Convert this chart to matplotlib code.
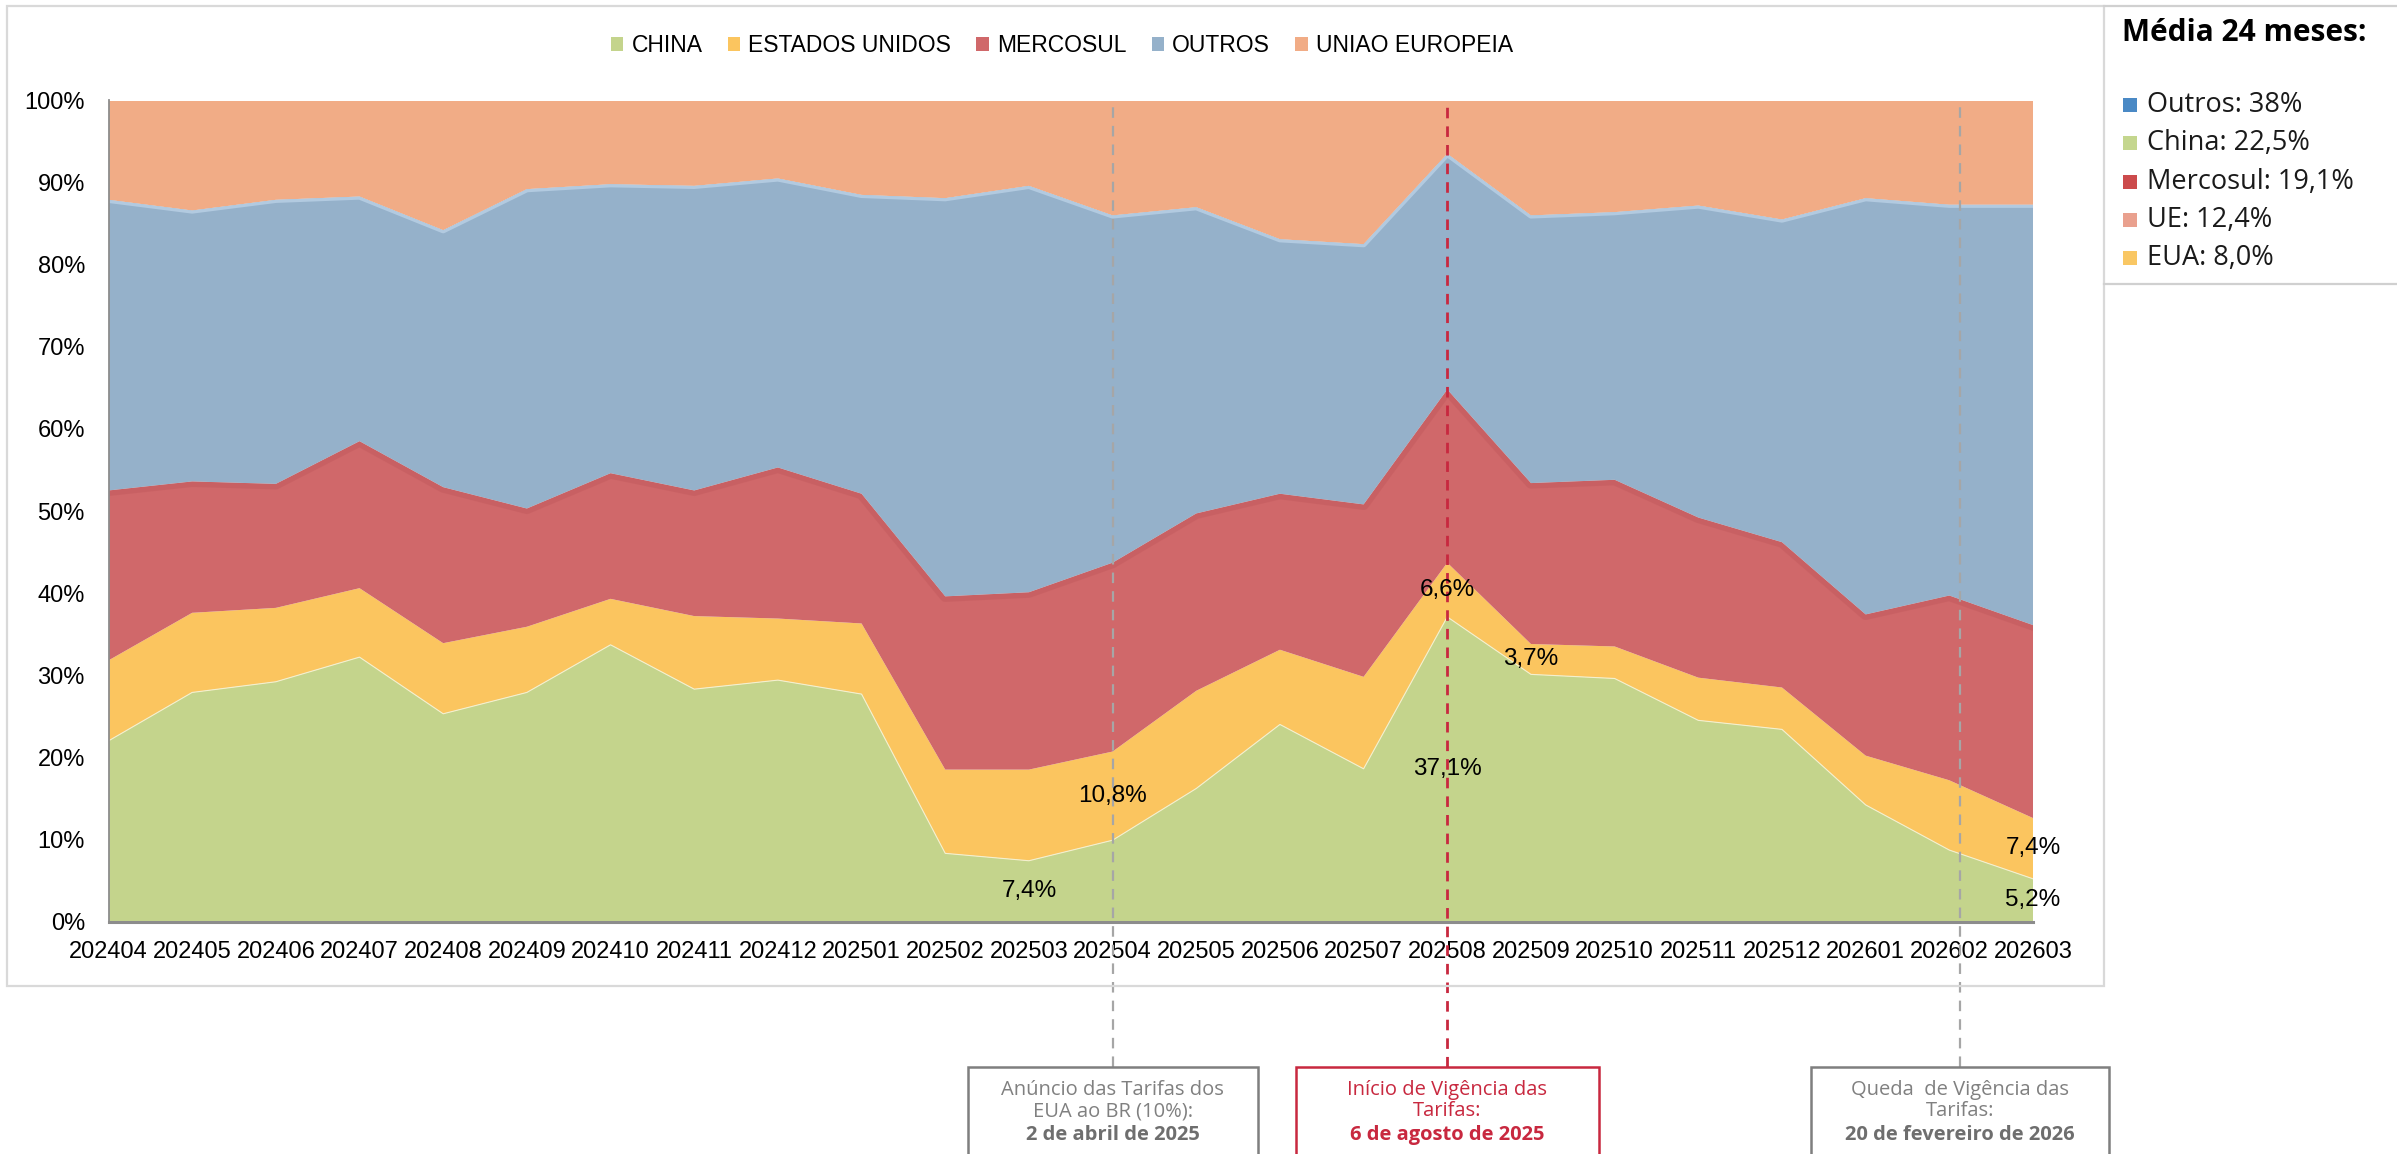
import matplotlib
matplotlib.use('Agg')
import matplotlib.pyplot as plt
from matplotlib.patches import Rectangle, Patch
from matplotlib.lines import Line2D
import numpy as np

meses = ['202404', '202405', '202406', '202407', '202408', '202409', '202410', '202411',
         '202412', '202501', '202502', '202503', '202504', '202505', '202506', '202507',
         '202508', '202509', '202510', '202511', '202512', '202601', '202602', '202603']

china = [22.0, 27.9, 29.2, 32.2, 25.3, 27.9, 33.7, 28.3, 29.4, 27.7, 8.3, 7.4,
         9.9, 16.2, 24.0, 18.6, 37.1, 30.1, 29.6, 24.5, 23.4, 14.2, 8.7, 5.2]
eua = [9.8, 9.7, 9.0, 8.4, 8.6, 8.0, 5.6, 8.9, 7.5, 8.6, 10.2, 11.1,
       10.8, 11.9, 9.1, 11.2, 6.6, 3.7, 3.9, 5.2, 5.1, 6.0, 8.5, 7.4]
mercosul = [20.7, 16.0, 15.1, 17.9, 19.0, 14.4, 15.3, 15.3, 18.4, 15.8, 21.1, 21.6,
            23.0, 21.6, 19.0, 21.0, 21.1, 19.6, 20.3, 19.5, 17.7, 17.2, 22.5, 23.5]
outros = [35.4, 33.0, 34.6, 29.8, 31.3, 38.9, 35.2, 37.1, 35.2, 36.4, 48.5, 49.5,
          42.3, 37.3, 31.0, 31.7, 28.7, 32.6, 32.6, 38.0, 39.3, 50.7, 47.6, 51.2]
ue = [12.1, 13.4, 12.1, 11.7, 15.8, 10.8, 10.2, 10.4, 9.5, 11.5, 11.9, 10.4,
      14.0, 13.0, 16.9, 17.5, 6.5, 14.0, 13.6, 12.8, 14.5, 11.9, 12.7, 12.7]

nomes = ['CHINA', 'ESTADOS UNIDOS', 'MERCOSUL', 'OUTROS', 'UNIAO EUROPEIA']
cores = ['#C4D48C', '#FBC55F', '#D0686A', '#95B1CA', '#F1AC86']

# rotulos de dados: (indice do mes, serie)
rotulos = [(11, 0), (12, 1), (16, 1), (16, 0), (17, 1), (23, 1), (23, 0)]

media_txt = ['Outros: 38%', 'China: 22,5%', 'Mercosul: 19,1%', 'UE: 12,4%', 'EUA: 8,0%']
media_cores = ['#4A89C5', '#C4D68E', '#CC4B4C', '#E9A08E', '#F9C764']

eventos = [12, 16, 22.13]
eventos_txt = [('Anúncio das Tarifas dos', 'EUA ao BR (10%):', '2 de abril de 2025'),
               ('Início de Vigência das', 'Tarifas:', '6 de agosto de 2025'),
               ('Queda  de Vigência das', 'Tarifas:', '20 de fevereiro de 2026')]
eventos_cor = ['#A6A6A6', '#C8283F', '#A6A6A6']
eventos_txtcor = ['#808080', '#C8283F', '#808080']
eventos_larg = [290, 303, 298]

W, H = 2397, 1154
fig = plt.figure(figsize=(W / 100, H / 100), dpi=100)


def fx(p):
    return p / W


def fy(p):
    return 1 - p / H


ax = fig.add_axes([fx(108.5), fy(921.5), fx(2033) - fx(108.5), fy(100.5) - fy(921.5)])
x = np.arange(len(meses))
series = [china, eua, mercosul, outros, ue]
polys = ax.stackplot(x, *series, colors=cores, linewidth=0)
acum = np.cumsum(np.array(series), axis=0)

# brilho no topo da area azul e sombra no vermelho
l1, = ax.plot(x, acum[3], color='#B2CAE0', lw=4.5)
l1.set_clip_path(polys[3].get_paths()[0], ax.transData)
l2, = ax.plot(x, acum[2], color='#C25A5D', lw=8, alpha=0.5)
l2.set_clip_path(polys[2].get_paths()[0], ax.transData)
ax.plot(x, acum[0], color='#F4F0CF', lw=0.8)

ax.set_xlim(0, len(meses) - 1)
ax.set_ylim(0, 100)
ax.set_xticks(x)
ax.set_xticklabels(meses, fontsize=17, family='Liberation Sans')
ax.set_yticks(range(0, 101, 10))
ax.set_yticklabels([f'{v}%' for v in range(0, 101, 10)], fontsize=17, family='Liberation Sans')
ax.tick_params(axis='x', length=0, pad=14)
ax.tick_params(axis='y', length=0, pad=17)
for s in ['top', 'right']:
    ax.spines[s].set_visible(False)
ax.spines['left'].set_color('#8C8C8C')
ax.spines['left'].set_linewidth(1.3)
ax.spines['bottom'].set_color('#8C8C8C')
ax.spines['bottom'].set_linewidth(2.2)

for i, s in rotulos:
    base = acum[s - 1][i] if s > 0 else 0
    v = series[s][i]
    ax.text(i, base + v / 2, f'{v:.1f}'.replace('.', ',') + '%', ha='center', va='center',
            fontsize=17.5, family='Liberation Sans', zorder=5, clip_on=False)

# linhas de eventos e caixas
box_top = 1067
ymin = (fy(box_top) - fy(921.5)) / (fy(100.5) - fy(921.5))
for ev, txt, cor, tcor, larg in zip(eventos, eventos_txt, eventos_cor, eventos_txtcor, eventos_larg):
    lw = 2.0 if cor == '#C8283F' else 1.6
    ax.axvline(ev, ymin=ymin, ymax=1, color=cor, lw=lw, ls=(0, (7.6 / lw, 5.8 / lw)),
               clip_on=False, zorder=4)
    cx = fig.transFigure.inverted().transform(ax.transData.transform((ev, 0)))[0]
    fig.add_artist(Rectangle((cx - fx(larg) / 2, fy(box_top + 150)), fx(larg), fy(box_top) - fy(box_top + 150),
                             transform=fig.transFigure, fill=True, fc='white', ec=cor if cor == '#C8283F' else '#7F7F7F',
                             lw=1.8, zorder=3))
    fig.text(cx, fy(1090), txt[0], ha='center', va='center', fontsize=14.5, color=tcor, family='Open Sans', zorder=4)
    fig.text(cx, fy(1111), txt[1], ha='center', va='center', fontsize=14.5, color=tcor, family='Open Sans', zorder=4)
    fig.text(cx, fy(1135), txt[2], ha='center', va='center', fontsize=14.5, color=tcor if cor == '#C8283F' else '#6E6E6E',
             family='Open Sans', fontweight='bold', zorder=4)

handles = [Patch(facecolor=c, edgecolor='none') for c in cores]
fig.legend(handles, nomes, loc='center', bbox_to_anchor=(fx(1062), fy(46)), ncol=5, frameon=False,
           prop={'family': 'Liberation Sans', 'size': 16.5}, handlelength=0.55, handleheight=0.55,
           handletextpad=0.35, columnspacing=1.1)

# moldura do grafico e caixa lateral
fig.add_artist(Rectangle((fx(7), fy(986)), fx(2104) - fx(7), fy(6) - fy(986), transform=fig.transFigure,
                         fill=False, ec='#D9D9D9', lw=1.6))
fig.add_artist(Line2D([fx(2104), 1], [fy(6), fy(6)], transform=fig.transFigure, color='#D0D0D0', lw=1.6))
fig.add_artist(Line2D([fx(2104), 1], [fy(284), fy(284)], transform=fig.transFigure, color='#D0D0D0', lw=1.6))

fig.text(fx(2122), fy(33), 'Média 24 meses:', fontsize=21.5, fontweight='bold', family='Open Sans',
         va='center', ha='left')
for k, (t, c) in enumerate(zip(media_txt, media_cores)):
    yy = 105 + k * 38.3
    fig.add_artist(Rectangle((fx(2123), fy(yy + 7)), fx(14), fy(yy - 7) - fy(yy + 7), transform=fig.transFigure,
                             fc=c, ec='none'))
    fig.text(fx(2147), fy(yy), t, fontsize=19.5, family='Open Sans', va='center', ha='left', color='#1A1A1A')

fig.savefig('out.png', dpi=100)
